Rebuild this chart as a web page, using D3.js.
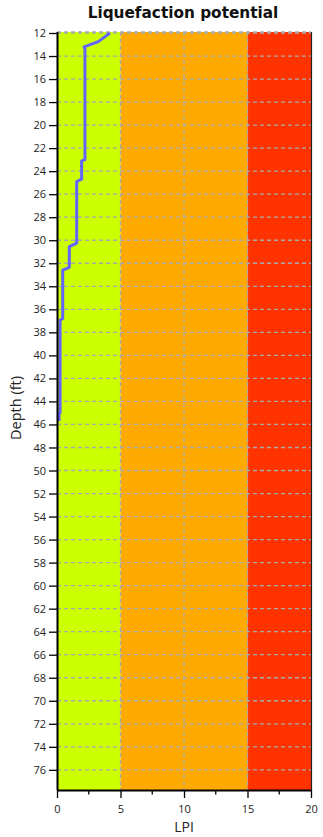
<!DOCTYPE html>
<html><head><meta charset="utf-8">
<script src="https://cdn.jsdelivr.net/npm/d3@7"></script>
<style>body{margin:0;background:#fff}svg{display:block}</style>
</head><body><svg id="c" width="323" height="837"></svg>
<script>
const title = "Liquefaction potential";
const xLabel = "LPI";
const yLabel = "Depth (ft)";
const zoneStarts = [0, 5, 15];
const zoneEnds = [5, 15, 20];
const zoneColors = ["#CCFF00", "#FFAA00", "#FF3300"];
const xTicks = [0, 5, 10, 15, 20];
const xMinorTicks = [2.5, 7.5, 12.5, 17.5];
const yTicks = d3.range(12, 77, 2);
const lpi =   [4.17, 3.25, 2.13, 2.2, 2.2, 1.94, 1.94, 1.55, 1.55, 0.97, 0.97, 0.45, 0.45, 0.24, 0.24, 0.16, 0.16];
const depth = [12.0, 12.75, 13.2, 13.4, 23.0, 23.1, 24.7, 24.9, 30.25, 30.55, 32.35, 32.6, 36.8, 36.95, 45.0, 45.05, 45.7];

const svg = d3.select("#c");
const m = {l:57, r:311, t:32, b:790};
const x = d3.scaleLinear().domain([0,20]).range([m.l, m.r]);
const y = d3.scaleLinear().domain([12,77.75]).range([m.t+1, m.b]);
const font = "'Open Sans', sans-serif";
const tfont = "DejaVu Sans, Verdana, sans-serif";

// zones
svg.selectAll("rect.zone").data(zoneStarts).enter().append("rect")
  .attr("x", (d)=>x(d)).attr("width",(d,i)=>x(zoneEnds[i])-x(d))
  .attr("y", m.t).attr("height", m.b-m.t)
  .attr("fill", (d,i)=>zoneColors[i]);

// grid
svg.append("g").selectAll("line").data(yTicks).enter().append("line")
  .attr("x1", m.l).attr("x2", m.r).attr("y1", d=>y(d)).attr("y2", d=>y(d))
  .attr("stroke", "#aaaaaa").attr("stroke-width", 1.3).attr("stroke-dasharray","4,3");
svg.append("g").selectAll("line").data([5,10,15]).enter().append("line")
  .attr("y1", m.t).attr("y2", m.b).attr("x1", d=>x(d)).attr("x2", d=>x(d))
  .attr("stroke", "#aaaaaa").attr("stroke-width", 1.3).attr("stroke-dasharray","4,3");
svg.append("line").attr("x1", m.l).attr("x2", m.r).attr("y1", m.t).attr("y2", m.t)
  .attr("stroke","#aaaaaa").attr("stroke-width",1.3).attr("stroke-dasharray","4,3");

// line
const pts = lpi.map((v,i)=>[v, depth[i]]);
svg.append("path").datum(pts)
  .attr("d", d3.line().x(d=>x(d[0])).y(d=>y(d[1])))
  .attr("fill","none").attr("stroke","#6464FF").attr("stroke-width",3)
  .attr("stroke-linejoin","round");

// right border
svg.append("line").attr("x1", m.r+0.5).attr("x2", m.r+0.5).attr("y1", m.t).attr("y2", m.b)
  .attr("stroke","#222").attr("stroke-width",1.2);

// y axis
const ya = svg.append("g").attr("transform", `translate(${m.l},0)`)
  .call(d3.axisLeft(y).tickValues(yTicks).tickSize(8).tickPadding(3));
ya.select(".domain").attr("stroke","#000").attr("stroke-width",2).attr("d", `M0.5,${m.t}V${m.b}`);
ya.selectAll(".tick line").attr("stroke","#000").attr("stroke-width",1.3);
ya.selectAll("text").attr("font-family", font).attr("font-size", 11).attr("fill","#222");

// x axis
const xa = svg.append("g").attr("transform", `translate(0,${m.b})`)
  .call(d3.axisBottom(x).tickValues(xTicks).tickSize(8).tickPadding(7));
xa.select(".domain").attr("stroke","#000").attr("stroke-width",2).attr("d", `M${m.l},0.5H${m.r+1}`);
xa.selectAll(".tick line").attr("stroke","#000").attr("stroke-width",1.3);
xa.selectAll("text").attr("font-family", font).attr("font-size", 11).attr("fill","#222");
svg.append("g").selectAll("line").data(xMinorTicks).enter().append("line")
  .attr("x1", d=>x(d)).attr("x2", d=>x(d)).attr("y1", m.b).attr("y2", m.b+4.5)
  .attr("stroke","#000").attr("stroke-width",1.3);

// labels
svg.append("text").attr("x", 183).attr("y", 18).attr("text-anchor","middle")
  .attr("font-family", tfont).attr("font-weight","bold").attr("font-size", 15.3).attr("fill","#111").text(title);
svg.append("text").attr("x", 184).attr("y", 832).attr("text-anchor","middle")
  .attr("font-family", font).attr("font-size", 14).attr("fill","#222").text(xLabel);
svg.append("text").attr("transform", `translate(21,408) rotate(-90)`).attr("text-anchor","middle")
  .attr("font-family", font).attr("font-size", 14.5).attr("fill","#222").text(yLabel);
</script></body></html>
